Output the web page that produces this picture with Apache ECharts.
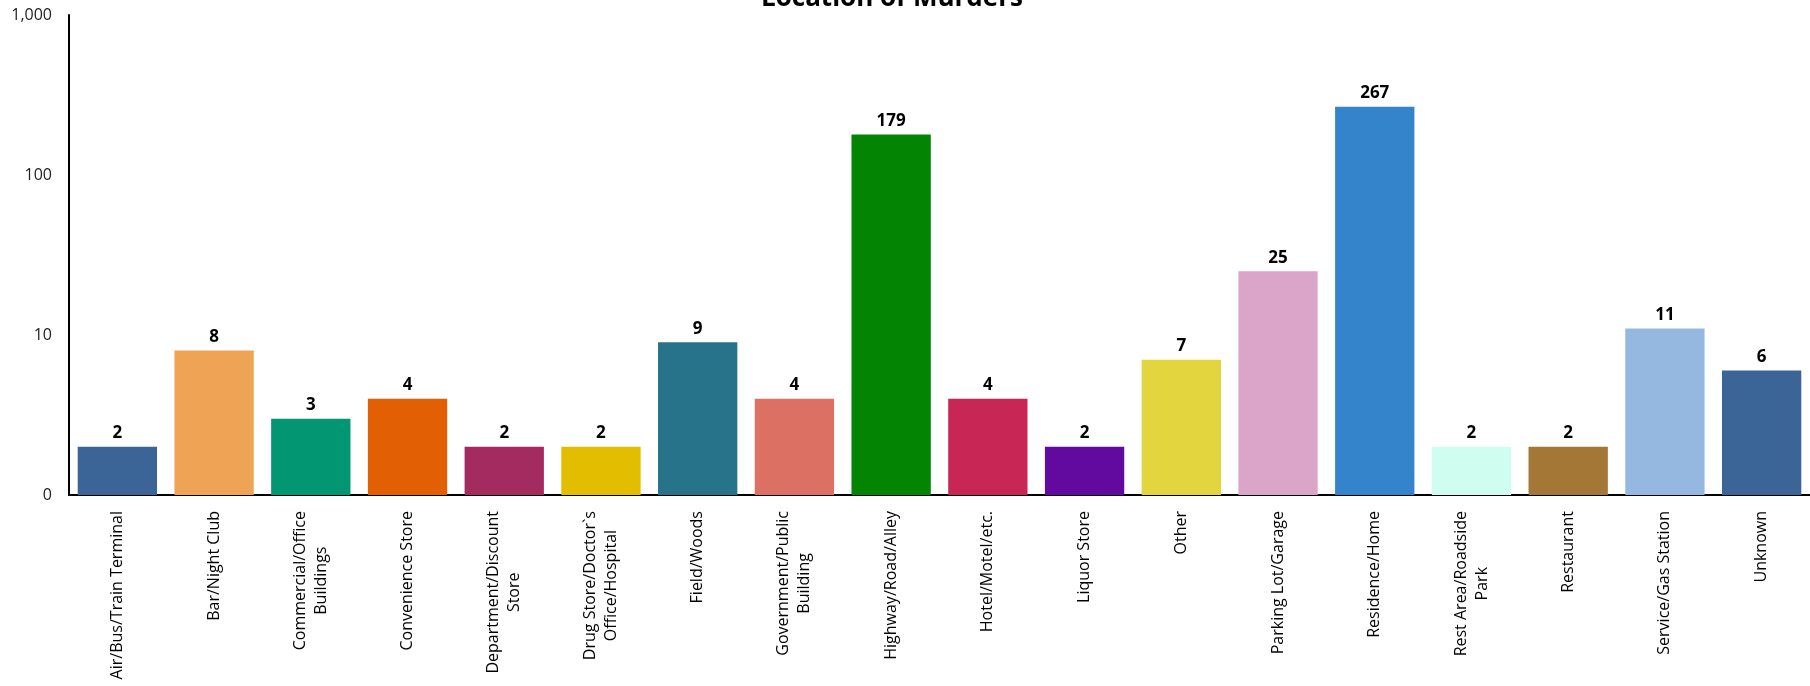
<!DOCTYPE html>
<html>
<head>
<meta charset="utf-8">
<title>Location of Murders</title>
<script src="https://cdn.jsdelivr.net/npm/echarts@6/dist/echarts.min.js"></script>
<style>
  html, body { margin: 0; padding: 0; background: #fff; }
  #main { width: 1810px; height: 686px; }
</style>
</head>
<body>
<div id="main"></div>
<script>
// 数据
var locations = [
    'Air/Bus/Train Terminal', 'Bar/Night Club', 'Commercial/Office\nBuildings',
    'Convenience Store', 'Department/Discount\nStore', 'Drug Store/Doctor`s\nOffice/Hospital',
    'Field/Woods', 'Government/Public\nBuilding', 'Highway/Road/Alley',
    'Hotel/Motel/etc.', 'Liquor Store', 'Other',
    'Parking Lot/Garage', 'Residence/Home', 'Rest Area/Roadside\nPark',
    'Restaurant', 'Service/Gas Station', 'Unknown'
];
var murders = [2, 8, 3, 4, 2, 2, 9, 4, 179, 4, 2, 7, 25, 267, 2, 2, 11, 6];
var barColors = [
    '#3a6596', '#efa355', '#029672', '#e25f03', '#a32b60', '#e3bd00',
    '#27748a', '#dc7063', '#038403', '#c82755', '#620aa0', '#e2d53d',
    '#dba4c9', '#3384cb', '#cffdf0', '#a57736', '#95b8e1', '#3a6596'
];

var myChart = echarts.init(document.getElementById('main'));

var option = {
    animation: false,
    title: {
        text: 'Location of Murders',
        left: 756,
        top: -19,
        textStyle: {
            fontFamily: 'Open Sans',
            fontSize: 26,
            fontWeight: 'bold',
            color: '#000'
        }
    },
    grid: {
        left: 69,
        right: 0,
        top: 15,
        bottom: 191
    },
    xAxis: {
        type: 'category',
        data: locations,
        axisLine: { lineStyle: { color: '#000', width: 2 } },
        axisTick: { show: false },
        axisLabel: {
            interval: 0,
            rotate: 90,
            margin: 16,
            color: '#000',
            align: 'right',
            // 多行标签居中
            formatter: function (name) {
                return name.split('\n').map(function (s) {
                    return '{c|' + s + '}';
                }).join('\n');
            },
            rich: {
                c: {
                    align: 'center',
                    fontFamily: 'Open Sans',
                    fontSize: 16,
                    lineHeight: 21,
                    color: '#000'
                }
            }
        }
    },
    yAxis: {
        type: 'log',
        logBase: 10,
        min: 1,
        max: 1000,
        splitLine: { show: false },
        axisLine: { show: true, lineStyle: { color: '#000', width: 2 } },
        axisTick: { show: false },
        axisLabel: {
            fontFamily: 'Open Sans',
            fontSize: 16,
            color: '#222',
            margin: 17,
            formatter: function (v) {
                return v === 1 ? '0' : v.toLocaleString('en-US');
            }
        }
    },
    series: [
        {
            type: 'bar',
            barCategoryGap: '18%',
            data: murders.map(function (v, i) {
                return { value: v, itemStyle: { color: barColors[i] } };
            }),
            label: {
                show: true,
                position: 'top',
                distance: 5,
                fontFamily: 'Open Sans',
                fontSize: 17,
                fontWeight: 'bold',
                color: '#000'
            }
        }
    ]
};

myChart.setOption(option);
</script>
</body>
</html>
